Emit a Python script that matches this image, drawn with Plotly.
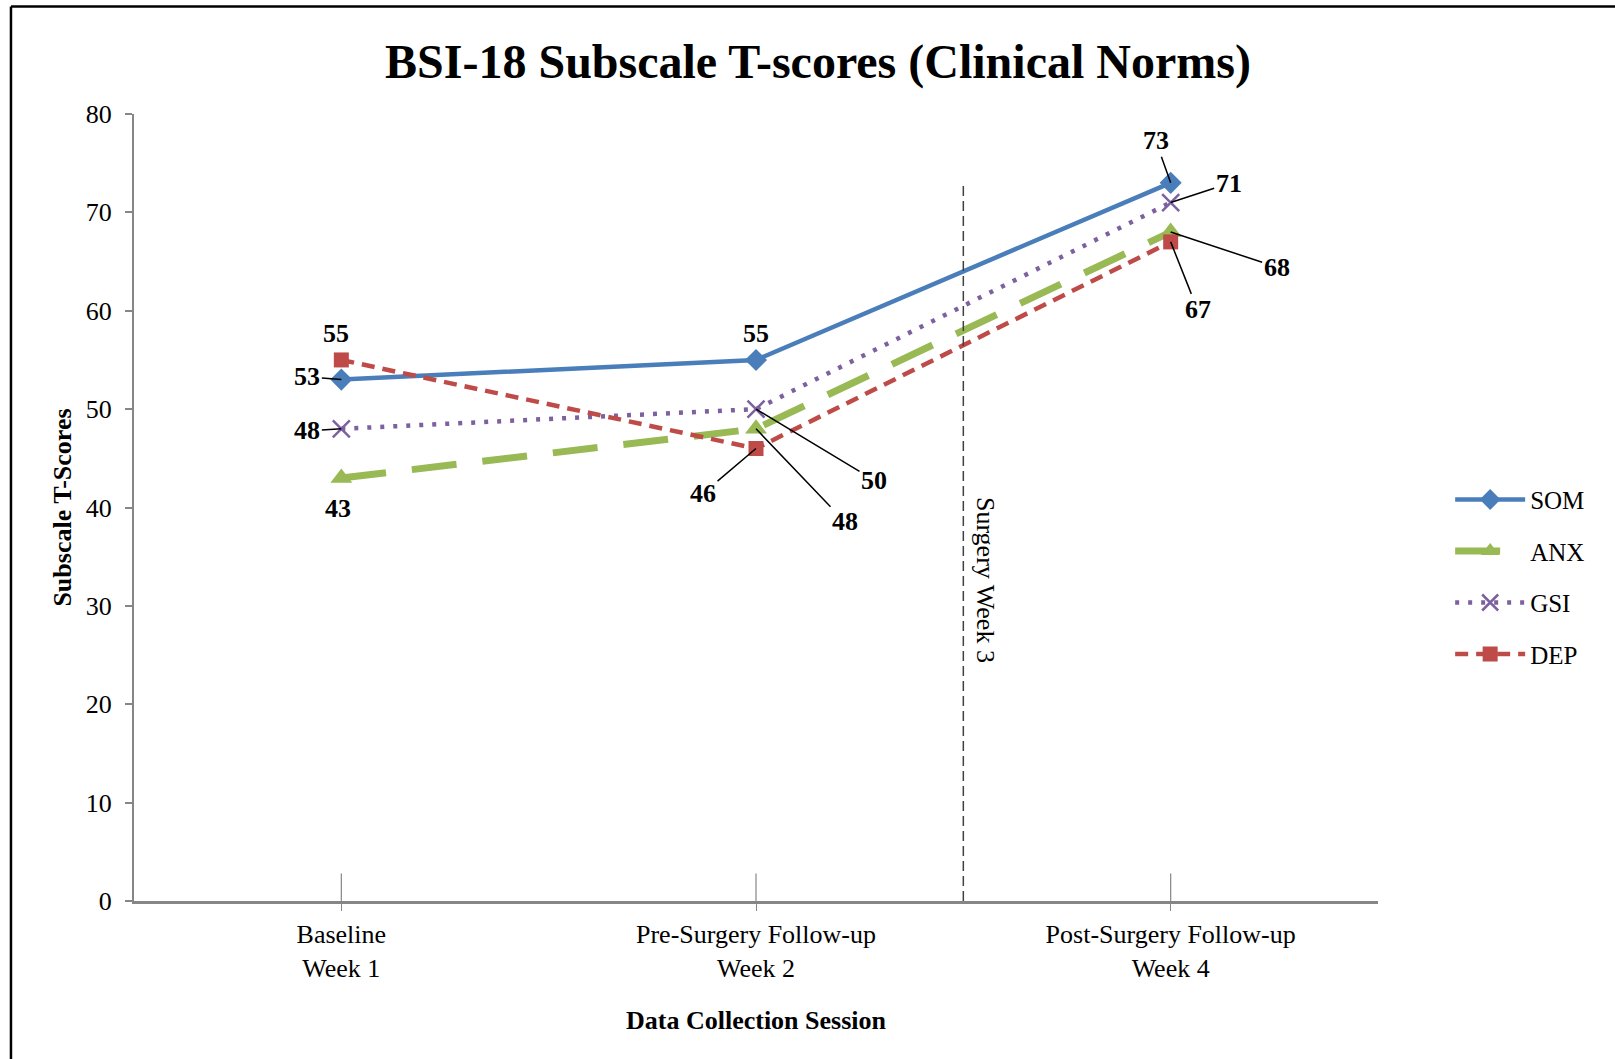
import plotly.graph_objects as go

# ---- data ----
categories = ["Baseline<br>Week 1", "Pre-Surgery Follow-up<br>Week 2", "Post-Surgery Follow-up<br>Week 4"]
series_names = ["SOM", "ANX", "GSI", "DEP"]
som = [53, 55, 73]
anx = [43, 48, 68]
gsi = [48, 50, 71]
dep = [55, 46, 67]
y_ticks = [0, 10, 20, 30, 40, 50, 60, 70, 80]
surgery_label = "Surgery Week 3"

values = {"SOM": som, "ANX": anx, "GSI": gsi, "DEP": dep}

# ---- styles ----
FONT = "Liberation Serif, Times New Roman, serif"
styles = {
    "SOM": dict(color="#4A7EBB", width=4.5, dash="solid", symbol="diamond", size=17, mline=0),
    "ANX": dict(color="#98B954", width=7, dash="45px,26px", symbol="triangle-up", size=19, mline=0),
    "GSI": dict(color="#7D60A0", width=4.5, dash="4px,9px", symbol="x-thin-open", size=17, mline=2.5),
    "DEP": dict(color="#BE4B48", width=4.5, dash="13px,8px", symbol="square", size=15, mline=0),
}

# label offsets (pixels) for data labels: (ax, ay, arrow)
label_pos = {
    "SOM": [(-34, -3, True), (0, -26, False), (-15, -42, True)],
    "ANX": [(-3, 31, False), (89, 93, True), (106, 35, True)],
    "GSI": [(-34, 2, True), (118, 71, True), (58, -19, True)],
    "DEP": [(-5, -26, False), (-53, 45, True), (27, 68, True)],
}

xs = list(range(len(categories)))

fig = go.Figure()
for name in series_names:
    s = styles[name]
    fig.add_trace(go.Scatter(
        x=xs, y=values[name], name=name, mode="lines+markers",
        legendgroup=name,
        line=dict(color=s["color"], width=s["width"], dash=s["dash"]),
        marker=dict(symbol=s["symbol"], size=s["size"], color=s["color"],
                    line=dict(color=s["color"], width=s["mline"])),
    ))

annotations = []
for name in series_names:
    for i, v in enumerate(values[name]):
        ax, ay, arrow = label_pos[name][i]
        if arrow:
            annotations.append(dict(
                x=xs[i], y=v, xref="x", yref="y", text=f"<b>{v}</b>",
                showarrow=True, ax=ax, ay=ay, arrowhead=0, arrowwidth=1.5,
                arrowcolor="black", standoff=0,
                font=dict(family=FONT, size=26, color="black")))
        else:
            annotations.append(dict(
                x=xs[i], y=v, xref="x", yref="y", text=f"<b>{v}</b>",
                showarrow=False, xshift=ax, yshift=-ay,
                font=dict(family=FONT, size=26, color="black")))

# surgery label
annotations.append(dict(
    x=1.5, y=32.6, xref="x", yref="y", text=surgery_label, textangle=90,
    showarrow=False, xshift=22, font=dict(family=FONT, size=26, color="black")))

shapes = [
    # surgery line
    dict(type="line", xref="x", yref="y", x0=1.5, x1=1.5, y0=0, y1=73.2,
         line=dict(color="#404040", width=1.5, dash="10px,5px")),
    # outer border (top and left)
    dict(type="line", xref="paper", yref="paper", x0=-0.0989, x1=1.2, y0=1.1366, y1=1.1366,
         line=dict(color="black", width=2.5)),
    dict(type="line", xref="paper", yref="paper", x0=-0.0989, x1=-0.0989, y0=1.1366, y1=-0.25,
         line=dict(color="black", width=2.5)),
]
# cross tick marks (upper part) on category axis
for i in xs:
    shapes.append(dict(type="line", xref="x", yref="y", x0=i, x1=i, y0=0, y1=2.8,
                       line=dict(color="#868686", width=1.2)))

fig.update_layout(
    width=1615, height=1059,
    margin=dict(l=134, r=237, t=114, b=158),
    paper_bgcolor="white", plot_bgcolor="white",
    font=dict(family=FONT, size=26, color="black"),
    title=dict(text="<b>BSI-18 Subscale T-scores (Clinical Norms)</b>",
               x=818 / 1615, xanchor="center", xref="container",
               y=1 - 61 / 1059, yanchor="middle", yref="container",
               font=dict(family=FONT, size=48, color="black")),
    showlegend=True,
    legend=dict(x=1.058, xanchor="left", y=0.412, yanchor="middle",
                font=dict(family=FONT, size=25, color="black"),
                itemwidth=70, tracegroupgap=16, bgcolor="rgba(0,0,0,0)"),
    annotations=annotations,
    shapes=shapes,
)
fig.update_xaxes(
    range=[-0.5, 2.5], tickmode="array", tickvals=xs, ticktext=categories,
    showline=True, linecolor="#868686", linewidth=2.5, showgrid=False, zeroline=False,
    ticks="outside", ticklen=7, tickcolor="#868686", tickwidth=1.2,
    ticklabelstandoff=1,
    tickfont=dict(family=FONT, size=26, color="black"),
    title=dict(text="<b>Data Collection Session</b>", standoff=30,
               font=dict(family=FONT, size=26, color="black")),
)
fig.update_yaxes(
    range=[0, 80], tickmode="array", tickvals=y_ticks,
    showline=True, linecolor="#868686", linewidth=2, showgrid=False, zeroline=False,
    ticks="outside", ticklen=7, tickcolor="#868686", tickwidth=1.5,
    ticklabelstandoff=8,
    tickfont=dict(family=FONT, size=26, color="black"),
    title=dict(text="<b>Subscale T-Scores</b>", standoff=7,
               font=dict(family=FONT, size=26, color="black")),
)

fig.write_html("out.html")
